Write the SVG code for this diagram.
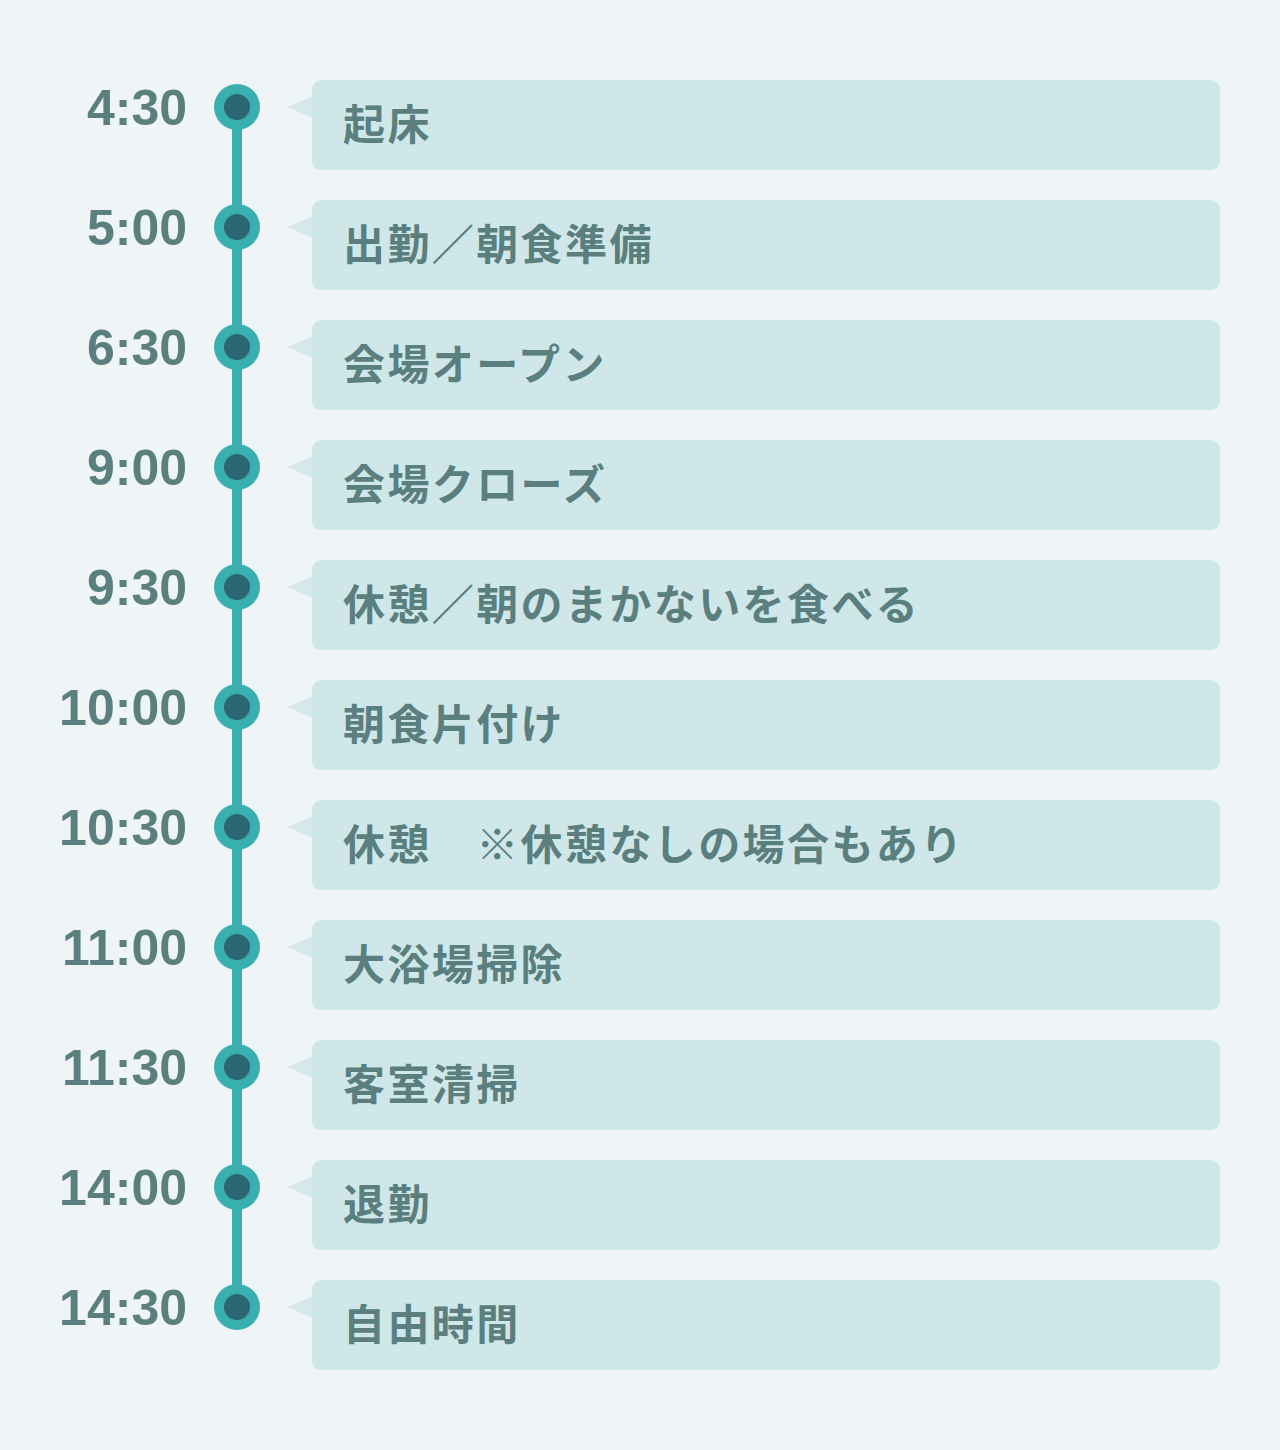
<svg xmlns="http://www.w3.org/2000/svg" width="1280" height="1450" viewBox="0 0 1280 1450">
<style>
.bg{fill:#eff5f6}
.box{fill:#cfe7e9}
.tip{fill:#d3e9ea}
.time{font-family:"Liberation Sans",Arial,sans-serif;font-weight:bold;font-size:50px;fill:#5a7f7e;text-anchor:end}
.lbl{font-family:"Noto Sans CJK JP","Noto Sans CJK SC",sans-serif;font-weight:bold;font-size:42px;letter-spacing:2.4px;fill:#5a7f7e}
.dot{fill:#3aafaf}
.core{fill:#2b6773}
</style>
<defs>
<g id="marker">
<circle class="dot" r="23"/>
<circle class="core" r="13"/>
</g>
</defs>
<rect class="bg" width="1280" height="1450"/>
<g id="connectors">
<line x1="237" y1="107" x2="237" y2="1307" stroke="#3aafaf" stroke-width="10"/>
</g>
<g id="n0" transform="translate(0,0)"><text class="time" x="187" y="125">4:30</text><use href="#marker" x="237" y="107"/><polygon class="tip" points="287,107 313,96 313,118"/><rect class="box" x="312" y="80" width="908" height="90" rx="9"/><text class="lbl" x="343" y="140">起床</text></g>
<g id="n1" transform="translate(0,120)"><text class="time" x="187" y="125">5:00</text><use href="#marker" x="237" y="107"/><polygon class="tip" points="287,107 313,96 313,118"/><rect class="box" x="312" y="80" width="908" height="90" rx="9"/><text class="lbl" x="343" y="140">出勤／朝食準備</text></g>
<g id="n2" transform="translate(0,240)"><text class="time" x="187" y="125">6:30</text><use href="#marker" x="237" y="107"/><polygon class="tip" points="287,107 313,96 313,118"/><rect class="box" x="312" y="80" width="908" height="90" rx="9"/><text class="lbl" x="343" y="140">会場オープン</text></g>
<g id="n3" transform="translate(0,360)"><text class="time" x="187" y="125">9:00</text><use href="#marker" x="237" y="107"/><polygon class="tip" points="287,107 313,96 313,118"/><rect class="box" x="312" y="80" width="908" height="90" rx="9"/><text class="lbl" x="343" y="140">会場クローズ</text></g>
<g id="n4" transform="translate(0,480)"><text class="time" x="187" y="125">9:30</text><use href="#marker" x="237" y="107"/><polygon class="tip" points="287,107 313,96 313,118"/><rect class="box" x="312" y="80" width="908" height="90" rx="9"/><text class="lbl" x="343" y="140">休憩／朝のまかないを食べる</text></g>
<g id="n5" transform="translate(0,600)"><text class="time" x="187" y="125">10:00</text><use href="#marker" x="237" y="107"/><polygon class="tip" points="287,107 313,96 313,118"/><rect class="box" x="312" y="80" width="908" height="90" rx="9"/><text class="lbl" x="343" y="140">朝食片付け</text></g>
<g id="n6" transform="translate(0,720)"><text class="time" x="187" y="125">10:30</text><use href="#marker" x="237" y="107"/><polygon class="tip" points="287,107 313,96 313,118"/><rect class="box" x="312" y="80" width="908" height="90" rx="9"/><text class="lbl" x="343" y="140" xml:space="preserve">休憩　※休憩なしの場合もあり</text></g>
<g id="n7" transform="translate(0,840)"><text class="time" x="187" y="125">11:00</text><use href="#marker" x="237" y="107"/><polygon class="tip" points="287,107 313,96 313,118"/><rect class="box" x="312" y="80" width="908" height="90" rx="9"/><text class="lbl" x="343" y="140">大浴場掃除</text></g>
<g id="n8" transform="translate(0,960)"><text class="time" x="187" y="125">11:30</text><use href="#marker" x="237" y="107"/><polygon class="tip" points="287,107 313,96 313,118"/><rect class="box" x="312" y="80" width="908" height="90" rx="9"/><text class="lbl" x="343" y="140">客室清掃</text></g>
<g id="n9" transform="translate(0,1080)"><text class="time" x="187" y="125">14:00</text><use href="#marker" x="237" y="107"/><polygon class="tip" points="287,107 313,96 313,118"/><rect class="box" x="312" y="80" width="908" height="90" rx="9"/><text class="lbl" x="343" y="140">退勤</text></g>
<g id="n10" transform="translate(0,1200)"><text class="time" x="187" y="125">14:30</text><use href="#marker" x="237" y="107"/><polygon class="tip" points="287,107 313,96 313,118"/><rect class="box" x="312" y="80" width="908" height="90" rx="9"/><text class="lbl" x="343" y="140">自由時間</text></g>
</svg>
